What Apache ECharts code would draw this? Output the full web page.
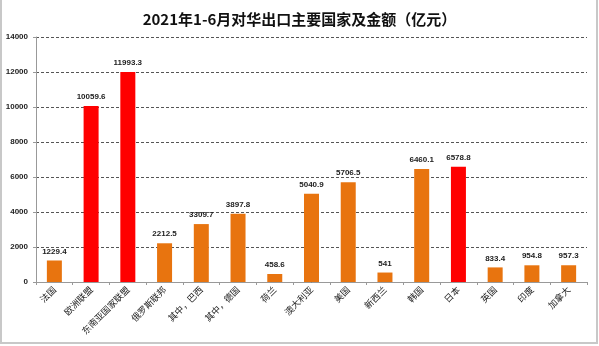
<!DOCTYPE html>
<html>
<head>
<meta charset="utf-8">
<script src="https://cdn.jsdelivr.net/npm/echarts@6/dist/echarts.min.js"></script>
<style>
  html, body { margin: 0; padding: 0; background: #fff; }
  #chart { width: 599px; height: 346px; }
</style>
</head>
<body>
<div id="chart"></div>
<script>
// Main destinations of exports to China, Jan–Jun 2021 (100 million yuan)
const categories = ['法国', '欧洲联盟', '东南亚国家联盟', '俄罗斯联邦', '其中，巴西', '其中，德国', '荷兰',
  '澳大利亚', '美国', '新西兰', '韩国', '日本', '英国', '印度', '加拿大'];
const values = [1229.4, 10059.6, 11993.3, 2212.5, 3309.7, 3897.8, 458.6,
  5040.9, 5706.5, 541, 6460.1, 6578.8, 833.4, 954.8, 957.3];
const highlighted = ['欧洲联盟', '东南亚国家联盟', '日本'];
const yTicks = [0, 2000, 4000, 6000, 8000, 10000, 12000, 14000];

const ORANGE = '#E8740F';
const RED = '#FF0000';

const chart = echarts.init(document.getElementById('chart'), null, { renderer: 'canvas' });

chart.setOption({
  backgroundColor: '#fff',
  animation: false,
  title: {
    text: '2021年1-6月对华出口主要国家及金额（亿元）',
    left: 'center',
    top: 7,
    textStyle: { fontFamily: 'Noto Sans CJK SC', fontSize: 15, fontWeight: 'bold', color: '#111' }
  },
  graphic: [{
    type: 'rect',
    shape: { x: 1, y: -2, width: 596, height: 345 },
    style: { fill: 'none', stroke: '#c8c8c8', lineWidth: 2 },
    silent: true
  }],
  grid: { left: 36, right: 12, top: 37, bottom: 64 },
  xAxis: {
    type: 'category',
    data: categories,
    axisLine: { lineStyle: { color: '#999', width: 1 } },
    axisTick: { show: true, length: 3, lineStyle: { color: '#999' } },
    axisLabel: {
      rotate: 45, interval: 0, fontSize: 9, color: '#222',
      fontFamily: 'Noto Sans CJK SC', margin: 6
    }
  },
  yAxis: {
    type: 'value',
    min: yTicks[0],
    max: yTicks[yTicks.length - 1],
    interval: 2000,
    axisLine: { show: true, lineStyle: { color: '#999', width: 1 } },
    axisTick: { show: true, length: 3, lineStyle: { color: '#999' } },
    axisLabel: {
      fontSize: 8, fontWeight: 'bold', color: '#222', fontFamily: 'Liberation Sans', margin: 8,
      formatter: v => String(v)
    },
    splitLine: { show: true, lineStyle: { type: [3, 2], color: '#555', width: 1 } }
  },
  series: [{
    type: 'bar',
    barWidth: 15,
    data: categories.map((c, i) => ({
      value: values[i],
      itemStyle: { color: highlighted.includes(c) ? RED : ORANGE }
    })),
    label: {
      show: true, position: 'top', distance: 5,
      fontSize: 8, fontWeight: 'bold', color: '#222', fontFamily: 'Liberation Sans'
    }
  }]
});
</script>
</body>
</html>
